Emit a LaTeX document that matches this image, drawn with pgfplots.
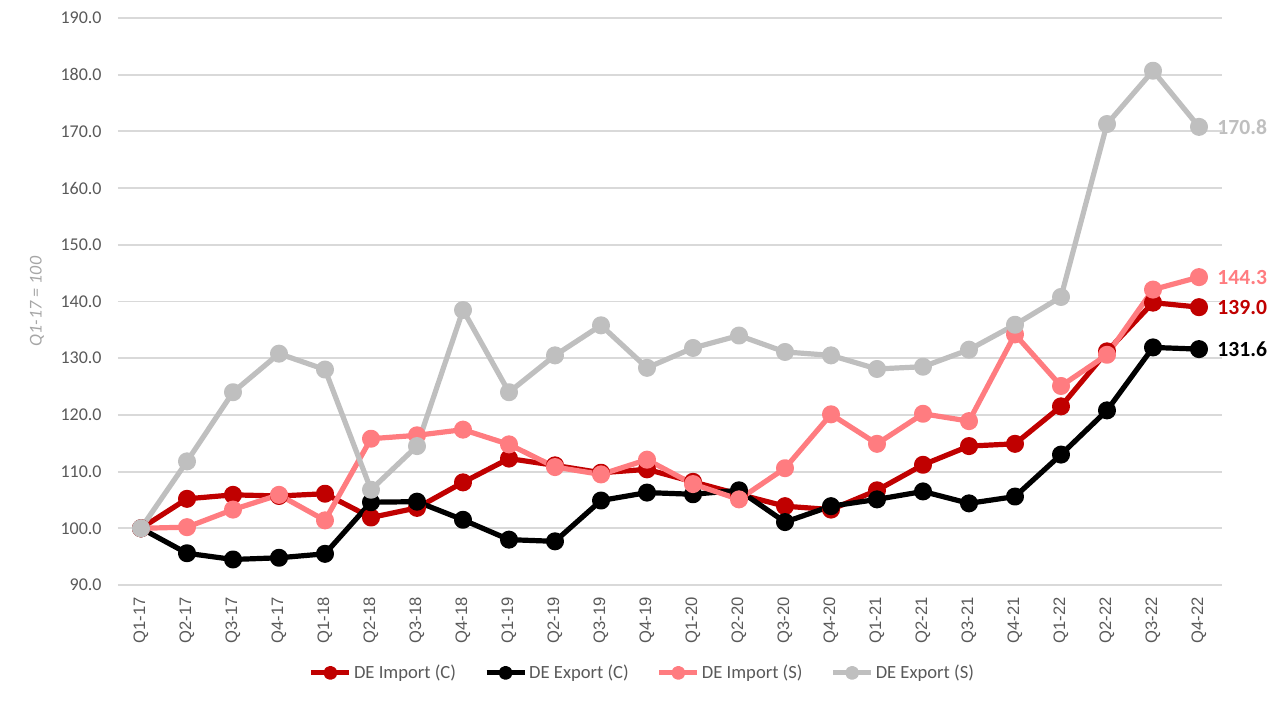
\documentclass[border=0pt]{standalone}
\usepackage{fontspec}
\setmainfont{Carlito}
\newfontfamily\arialfont{Liberation Sans}
\usepackage{pgfplots}
\usepackage{pgfplotstable}
\pgfplotsset{compat=1.18}

\definecolor{impc}{HTML}{C00000}
\definecolor{expc}{HTML}{000000}
\definecolor{imps}{HTML}{FF7C80}
\definecolor{exps}{HTML}{BFBFBF}
\definecolor{txtgray}{HTML}{595959}
\definecolor{gridgray}{HTML}{D9D9D9}
\definecolor{lblgray}{HTML}{A6A6A6}

\pgfplotstableread{
x  impc  expc  imps  exps
0  100.0 100.0 100.0 100.0
1  105.2 95.6  100.2 111.8
2  105.9 94.5  103.3 124.0
3  105.7 94.8  105.9 130.8
4  106.1 95.5  101.4 128.0
5  101.9 104.6 115.8 106.8
6  103.6 104.7 116.4 114.5
7  108.1 101.5 117.4 138.5
8  112.3 98.0  114.8 124.0
9  111.1 97.7  110.8 130.5
10 109.8 104.9 109.5 135.8
11 110.4 106.3 112.1 128.3
12 108.2 106.0 107.8 131.8
13 106.0 106.7 105.1 134.0
14 103.9 101.1 110.6 131.1
15 103.3 103.9 120.1 130.5
16 106.7 105.1 114.9 128.1
17 111.2 106.5 120.2 128.5
18 114.5 104.4 118.9 131.5
19 114.9 105.6 134.2 135.9
20 121.5 113.0 125.1 140.8
21 131.2 120.8 130.6 171.3
22 139.8 131.9 142.1 180.7
23 139.0 131.6 144.3 170.8
}\datatable

\begin{document}
\begin{tikzpicture}
\path[use as bounding box] (-59bp,-58.5bp) rectangle (581bp,292.5bp);
\begin{axis}[
    at={(0,0)}, anchor=south west,
    scale only axis,
    width=552bp, height=283.5bp,
    xmin=-0.5, xmax=23.5,
    ymin=90, ymax=190,
    ytick={90,100,...,190},
    xtick=data,
    xticklabels={Q1-17,Q2-17,Q3-17,Q4-17,Q1-18,Q2-18,Q3-18,Q4-18,Q1-19,Q2-19,Q3-19,Q4-19,Q1-20,Q2-20,Q3-20,Q4-20,Q1-21,Q2-21,Q3-21,Q4-21,Q1-22,Q2-22,Q3-22,Q4-22},
    axis line style={draw=none},
    major tick length=0pt,
    ymajorgrids,
    grid style={gridgray, line width=0.9bp},
    /pgf/number format/assume math mode=true,
    yticklabel={\pgfmathprintnumber[fixed,fixed zerofill,precision=1]{\tick}},
    yticklabel style={font=\fontsize{9bp}{10bp}\selectfont, text=txtgray, anchor=east, inner sep=0pt},
    yticklabel shift=8bp,
    xticklabel style={font=\arialfont\fontsize{8.3bp}{9bp}\selectfont, text=txtgray, rotate=90, anchor=east, inner sep=0pt},
    xticklabel shift=6bp,
    ylabel={\itshape Q1-17 = 100},
    ylabel style={at={(axis description cs:-0.0734,0.5)}, anchor=center, font=\fontsize{9bp}{10bp}\selectfont, text=lblgray},
    every axis plot/.append style={line width=2.6bp, mark=*, mark size=3.2bp, line join=round, mark options={line width=0.4bp}},
    legend columns=4,
    legend style={at={(0.475,-0.155)}, anchor=center, draw=none, fill=none,
        font=\fontsize{9.3bp}{10bp}\selectfont, text=txtgray,
        nodes={inner xsep=1bp, inner ysep=1bp},
        /tikz/every even column/.append style={column sep=13bp}},
    legend image code/.code={\draw[mark repeat=2, mark phase=2, line width=2.6bp, mark size=2.2bp] plot coordinates {(0bp,0bp) (9.5bp,0bp) (19bp,0bp)};},
    clip=false,
]
\addplot[impc, mark options={fill=impc, draw=impc}] table[x=x, y=impc] {\datatable};
\addlegendentry{DE Import (C)}
\addplot[expc, mark options={fill=expc, draw=expc}] table[x=x, y=expc] {\datatable};
\addlegendentry{DE Export (C)}
\addplot[imps, mark options={fill=imps, draw=imps}] table[x=x, y=imps] {\datatable};
\addlegendentry{DE Import (S)}
\addplot[exps, mark options={fill=exps, draw=exps}] table[x=x, y=exps] {\datatable};
\addlegendentry{DE Export (S)}

\node[anchor=west, inner sep=0pt, xshift=9bp, text=exps, font=\bfseries\fontsize{10.8bp}{12bp}\selectfont] at (axis cs:23,170.8) {170.8};
\node[anchor=west, inner sep=0pt, xshift=9bp, text=imps, font=\bfseries\fontsize{10.8bp}{12bp}\selectfont] at (axis cs:23,144.3) {144.3};
\node[anchor=west, inner sep=0pt, xshift=9bp, text=impc, font=\bfseries\fontsize{10.8bp}{12bp}\selectfont] at (axis cs:23,139.0) {139.0};
\node[anchor=west, inner sep=0pt, xshift=9bp, text=expc, font=\bfseries\fontsize{10.8bp}{12bp}\selectfont] at (axis cs:23,131.6) {131.6};
\end{axis}
\end{tikzpicture}
\end{document}
